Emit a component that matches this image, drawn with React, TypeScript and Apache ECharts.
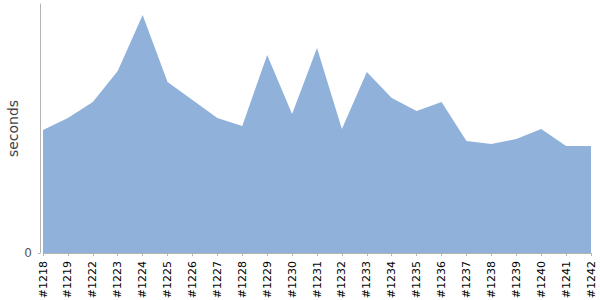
import React, { useEffect, useRef } from "react";
import * as echarts from "echarts";

const builds = [
  "#1218", "#1219", "#1222", "#1223", "#1224", "#1225", "#1226", "#1227",
  "#1228", "#1229", "#1230", "#1231", "#1232", "#1233", "#1234", "#1235",
  "#1236", "#1237", "#1238", "#1239", "#1240", "#1241", "#1242",
];

const durations = [
  123, 135, 151, 182, 238, 171, 153, 135,
  127, 198, 139, 205, 124, 181, 155, 142,
  151, 112, 109, 114, 124, 107, 107,
];

const yMax = 249;
const yLabelValues = [0];

export default function App() {
  const ref = useRef<HTMLDivElement>(null);

  useEffect(() => {
    if (!ref.current) return;
    const chart = echarts.init(ref.current, undefined, { renderer: "svg" });
    const font = "'DejaVu Sans', sans-serif";
    chart.setOption({
      animation: false,
      backgroundColor: "#ffffff",
      grid: {
        left: 43,
        right: 9,
        top: 4,
        bottom: 47,
        containLabel: false,
        outerBoundsMode: "none",
      },
      xAxis: {
        type: "category",
        data: builds,
        boundaryGap: false,
        offset: 3,
        axisLine: { show: true, lineStyle: { color: "#b4b4b4", width: 1 } },
        axisTick: { show: true, length: 3, lineStyle: { color: "#b4b4b4" } },
        axisLabel: {
          rotate: 90,
          interval: 0,
          margin: 5,
          fontSize: 11,
          fontFamily: font,
          color: "#000000",
        },
        splitLine: { show: false },
      },
      yAxis: {
        type: "value",
        min: 0,
        max: yMax,
        offset: 3,
        name: "seconds",
        nameLocation: "middle",
        nameRotate: 90,
        nameGap: 20,
        nameMoveOverlap: false,
        nameTextStyle: { fontSize: 14, fontFamily: font, color: "#444444" },
        axisLine: { show: true, lineStyle: { color: "#b4b4b4", width: 1 } },
        axisTick: { show: true, length: 2, customValues: yLabelValues, lineStyle: { color: "#b4b4b4" } },
        axisLabel: {
          customValues: yLabelValues,
          margin: 8,
          fontSize: 12,
          fontFamily: font,
          color: "#555555",
        },
        splitLine: { show: false },
      },
      series: [
        {
          type: "line",
          data: durations,
          symbol: "none",
          lineStyle: { width: 0 },
          areaStyle: { color: "#8fb1da", opacity: 1, origin: "start" },
        },
      ],
    });
    return () => chart.dispose();
  }, []);

  return (
    <div
      ref={ref}
      style={{ width: 600, height: 300, position: "absolute", left: 0, top: 0 }}
    />
  );
}
